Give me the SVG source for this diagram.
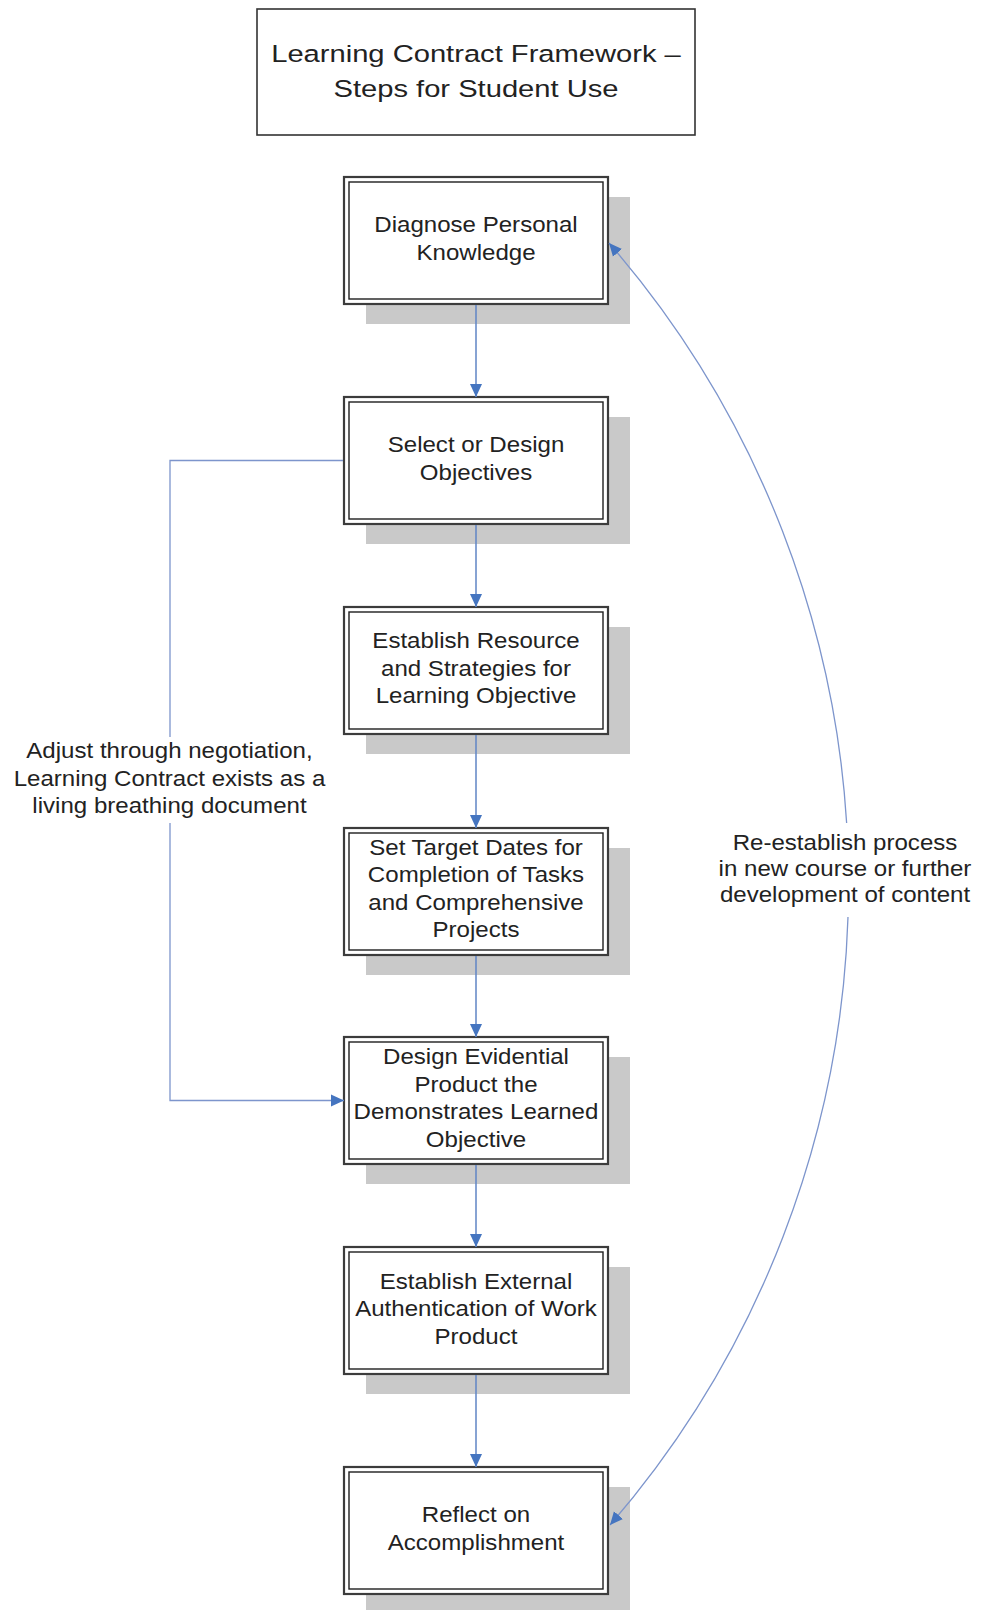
<svg xmlns="http://www.w3.org/2000/svg" width="982" height="1610" viewBox="0 0 982 1610">
  <style>
    .shadow { fill: #c9c9c9; }
    .outer { fill: #ffffff; stroke: #3c3c3c; stroke-width: 2.2; }
    .inner { fill: none; stroke: #1e1e1e; stroke-width: 1.4; }
    .title-box { fill: #ffffff; stroke: #333333; stroke-width: 1.6; }
    .txt { font-family: "Liberation Sans", Arial, sans-serif; font-size: 21.5px; fill: #222222; text-anchor: middle; }
    .title { font-family: "Liberation Sans", Arial, sans-serif; font-size: 24.5px; fill: #222222; text-anchor: middle; }
    .conn { fill: none; stroke: #5f85c5; stroke-width: 1.5; }
    .thin { fill: none; stroke: #7d95cc; stroke-width: 1.3; }
    .bg { fill: #ffffff; }
  </style>
  <defs>
    <marker id="arrow" markerUnits="userSpaceOnUse" markerWidth="16" markerHeight="16" refX="13" refY="7" orient="auto-start-reverse" viewBox="0 0 16 16">
      <path d="M0,1 L13,7 L0,13 z" fill="#4575c0"/>
    </marker>
  </defs>

  <rect width="982" height="1610" fill="#ffffff"/>

  <!-- heading -->
  <g id="title">
    <rect class="title-box" x="257" y="9" width="438" height="126"/>
    <g transform="matrix(1.19 0 0 1 -90.44 0)">
      <text class="title" x="476" y="62">Learning Contract Framework –</text>
      <text class="title" x="476" y="97">Steps for Student Use</text>
    </g>
  </g>

  <!-- process steps -->
  <g id="step1">
    <rect class="shadow" x="366" y="197" width="264" height="127"/>
    <rect class="outer" x="344" y="177" width="264" height="127"/>
    <rect class="inner" x="349" y="182" width="254" height="117"/>
    <g transform="matrix(1.12 0 0 1 -57.12 0)">
      <text class="txt" x="476" y="232.5">Diagnose Personal</text>
      <text class="txt" x="476" y="260">Knowledge</text>
    </g>
  </g>

  <g id="step2">
    <rect class="shadow" x="366" y="417" width="264" height="127"/>
    <rect class="outer" x="344" y="397" width="264" height="127"/>
    <rect class="inner" x="349" y="402" width="254" height="117"/>
    <g transform="matrix(1.12 0 0 1 -57.12 0)">
      <text class="txt" x="476" y="452.5">Select or Design</text>
      <text class="txt" x="476" y="480">Objectives</text>
    </g>
  </g>

  <g id="step3">
    <rect class="shadow" x="366" y="627" width="264" height="127"/>
    <rect class="outer" x="344" y="607" width="264" height="127"/>
    <rect class="inner" x="349" y="612" width="254" height="117"/>
    <g transform="matrix(1.12 0 0 1 -57.12 0)">
      <text class="txt" x="476" y="648.5">Establish Resource</text>
      <text class="txt" x="476" y="676">and Strategies for</text>
      <text class="txt" x="476" y="703.5">Learning Objective</text>
    </g>
  </g>

  <g id="step4">
    <rect class="shadow" x="366" y="848" width="264" height="127"/>
    <rect class="outer" x="344" y="828" width="264" height="127"/>
    <rect class="inner" x="349" y="833" width="254" height="117"/>
    <g transform="matrix(1.12 0 0 1 -57.12 0)">
      <text class="txt" x="476" y="855">Set Target Dates for</text>
      <text class="txt" x="476" y="882.5">Completion of Tasks</text>
      <text class="txt" x="476" y="910">and Comprehensive</text>
      <text class="txt" x="476" y="937.5">Projects</text>
    </g>
  </g>

  <g id="step5">
    <rect class="shadow" x="366" y="1057" width="264" height="127"/>
    <rect class="outer" x="344" y="1037" width="264" height="127"/>
    <rect class="inner" x="349" y="1042" width="254" height="117"/>
    <g transform="matrix(1.12 0 0 1 -57.12 0)">
      <text class="txt" x="476" y="1064.5">Design Evidential</text>
      <text class="txt" x="476" y="1092">Product the</text>
      <text class="txt" x="476" y="1119.5">Demonstrates Learned</text>
      <text class="txt" x="476" y="1147">Objective</text>
    </g>
  </g>

  <g id="step6">
    <rect class="shadow" x="366" y="1267" width="264" height="127"/>
    <rect class="outer" x="344" y="1247" width="264" height="127"/>
    <rect class="inner" x="349" y="1252" width="254" height="117"/>
    <g transform="matrix(1.12 0 0 1 -57.12 0)">
      <text class="txt" x="476" y="1289">Establish External</text>
      <text class="txt" x="476" y="1316.5">Authentication of Work</text>
      <text class="txt" x="476" y="1344">Product</text>
    </g>
  </g>

  <g id="step7">
    <rect class="shadow" x="366" y="1487" width="264" height="127"/>
    <rect class="outer" x="344" y="1467" width="264" height="127"/>
    <rect class="inner" x="349" y="1472" width="254" height="117"/>
    <g transform="matrix(1.12 0 0 1 -57.12 0)">
      <text class="txt" x="476" y="1522.5">Reflect on</text>
      <text class="txt" x="476" y="1550">Accomplishment</text>
    </g>
  </g>

  <!-- connectors, drawn over the step shadows -->
  <g id="connectors">
    <path class="conn" d="M476,305 V397" marker-end="url(#arrow)"/>
    <path class="conn" d="M476,525 V607" marker-end="url(#arrow)"/>
    <path class="conn" d="M476,735 V828" marker-end="url(#arrow)"/>
    <path class="conn" d="M476,956 V1037" marker-end="url(#arrow)"/>
    <path class="conn" d="M476,1165 V1247" marker-end="url(#arrow)"/>
    <path class="conn" d="M476,1375 V1467" marker-end="url(#arrow)"/>
    <!-- negotiation loop back into the evidential product step -->
    <path class="thin" d="M343,460.5 H170 V1100.5 H344" marker-end="url(#arrow)"/>
    <!-- restart loop from reflection back to diagnosis -->
    <path class="thin" d="M609,243 A979,979 0 0 1 610,1525" marker-start="url(#arrow)" marker-end="url(#arrow)"/>

    <g id="label-adjust">
      <rect class="bg" x="8" y="737" width="324" height="86"/>
      <g transform="matrix(1.12 0 0 1 -20.34 0)">
        <text class="txt" x="169.5" y="758">Adjust through negotiation,</text>
        <text class="txt" x="169.5" y="786">Learning Contract exists as a</text>
        <text class="txt" x="169.5" y="813">living breathing document</text>
      </g>
    </g>
    <g id="label-restart">
      <rect class="bg" x="700" y="823" width="282" height="94"/>
      <g transform="matrix(1.12 0 0 1 -101.4 0)">
        <text class="txt" x="845" y="850">Re-establish process</text>
        <text class="txt" x="845" y="876">in new course or further</text>
        <text class="txt" x="845" y="902">development of content</text>
      </g>
    </g>
  </g>
</svg>
